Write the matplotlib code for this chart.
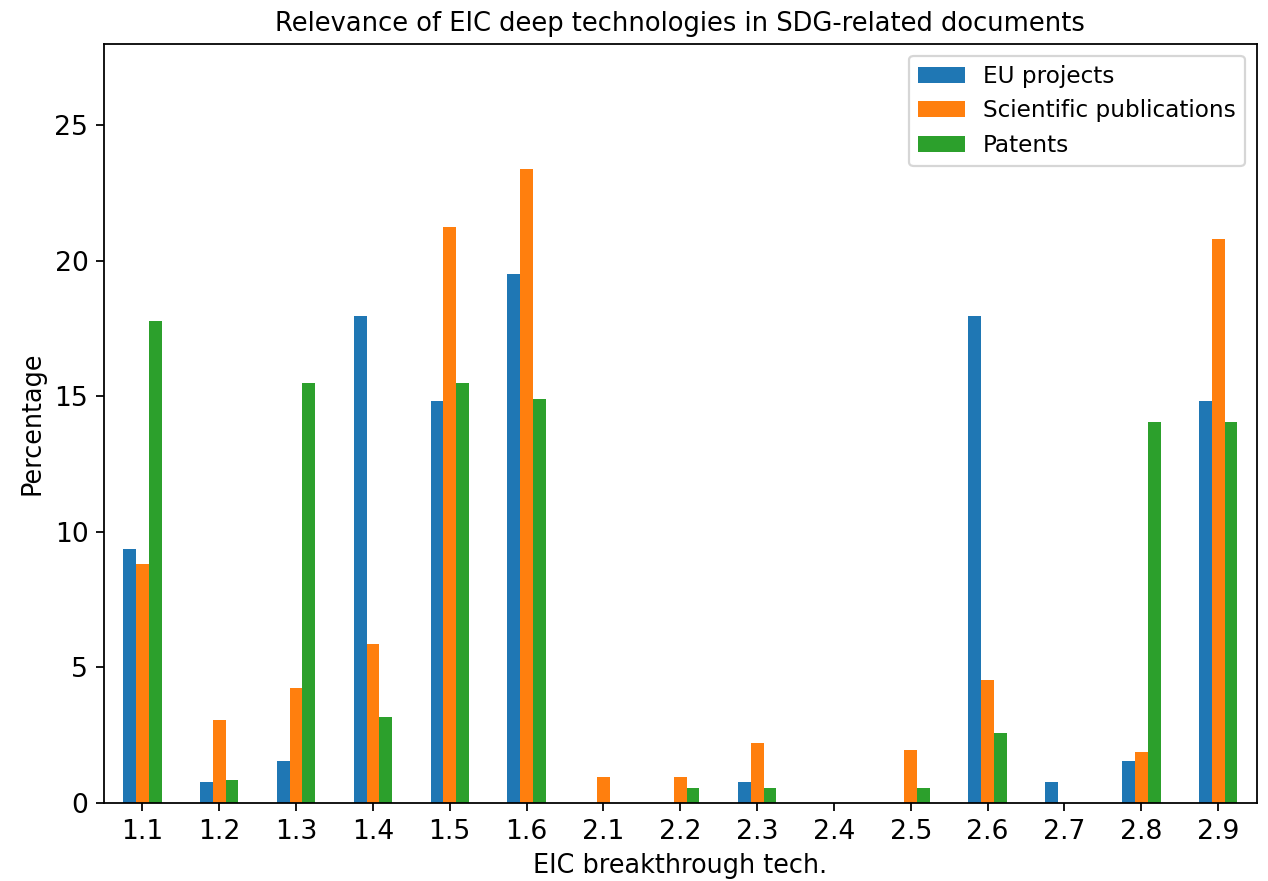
import numpy as np
import matplotlib
matplotlib.use("Agg")
import matplotlib.pyplot as plt

# categorie e valori (percentuali)
categorie = ["1.1", "1.2", "1.3", "1.4", "1.5", "1.6", "2.1", "2.2",
             "2.3", "2.4", "2.5", "2.6", "2.7", "2.8", "2.9"]
eu_projects = [9.38, 0.78, 1.56, 17.97, 14.84, 19.53, 0, 0,
               0.78, 0, 0, 17.97, 0.78, 1.56, 14.84]
sci_pubs = [8.8, 3.05, 4.25, 5.88, 21.25, 23.4, 0.95, 0.95,
            2.2, 0, 1.95, 4.55, 0, 1.9, 20.82]
patents = [17.78, 0.85, 15.5, 3.17, 15.5, 14.9, 0, 0.56,
           0.56, 0, 0.56, 2.6, 0, 14.05, 14.05]

fig = plt.figure(figsize=(1268 / 160, 881 / 160), dpi=160)
ax = fig.add_axes([0.082, 0.0885, 0.909, 0.8615])

x = np.arange(len(categorie))
w = 0.5 / 3
ax.bar(x - w, eu_projects, w, color="#1f77b4", label="EU projects")
ax.bar(x, sci_pubs, w, color="#ff7f0e", label="Scientific publications")
ax.bar(x + w, patents, w, color="#2ca02c", label="Patents")

ax.set_xticks(x)
ax.set_xticklabels(categorie)
ax.tick_params(labelsize=12)
ax.set_xlim(-0.5, len(categorie) - 0.5)
ax.set_ylim(0, 28)
ax.set_title("Relevance of EIC deep technologies in SDG-related documents", fontsize=11.6)
ax.set_xlabel("EIC breakthrough tech.", fontsize=11.5)
ax.set_ylabel("Percentage", fontsize=11.5)
ax.legend(loc="upper right", fontsize=10.4)

fig.savefig("out.png", dpi=160)
